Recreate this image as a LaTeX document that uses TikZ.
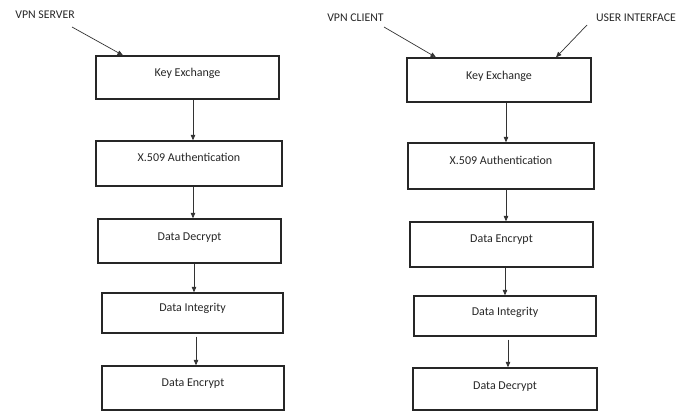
\documentclass[tikz,border=0pt]{standalone}
\usepackage{fontspec}
\setmainfont{Carlito}
\usetikzlibrary{arrows.meta}
\begin{document}
\begin{tikzpicture}[x=1pt,y=-1pt,
  box/.style n args={3}{draw=black!85, line width=1.3pt, rectangle, inner xsep=0pt, inner ysep=0pt,
     minimum width=#1pt, text height=#2pt, text depth=#3pt, font=\fontsize{12}{14}\selectfont, text=black!85},
  lbl/.style={font=\fontsize{11.8}{14}\selectfont, text=black!85, inner sep=0pt},
  arr/.style={draw=black!80, line width=0.7pt, -{Triangle[length=5.5pt,width=4.5pt]}}]
\useasboundingbox (0,0) rectangle (688,412);
% left column
\node[box={183}{20.5}{22.5}] (L1) at (187.5,77.5) {Key Exchange};
\node[box={186}{20.5}{24.5}] (L2) at (189,163.5) {X.509 Authentication};
\node[box={183}{21.5}{22.5}] (L3) at (189.5,241) {Data Decrypt};
\node[box={181}{18.5}{21.5}] (L4) at (192.5,313) {Data Integrity};
\node[box={182}{20.5}{23.5}] (L5) at (193,388) {Data Encrypt};
% right column
\node[box={184}{21.5}{22.5}] (R1) at (499,80) {Key Exchange};
\node[box={186}{21.5}{24.5}] (R2) at (501,166) {X.509 Authentication};
\node[box={183}{20.5}{24.5}] (R3) at (501.5,244.5) {Data Encrypt};
\node[box={182}{19.5}{20.5}] (R4) at (505,316) {Data Integrity};
\node[box={184}{21.5}{20.5}] (R5) at (505,389) {Data Decrypt};
% labels
\node[lbl] (srv) at (45,14.5) {VPN SERVER};
\node[lbl] (cli) at (355.5,18) {VPN CLIENT};
\node[lbl] (ui) at (636,17.5) {USER INTERFACE};
\coordinate (s1) at (72,27);
\coordinate (s2) at (384,27);
\coordinate (s3) at (587,25);
% connectors
\draw[arr] (s1) -- ([xshift=-64.5pt]L1.north);
\draw[arr] (s2) -- ([xshift=-63pt]R1.north);
\draw[arr] (s3) -- ([xshift=57pt]R1.north);
\draw[arr] ([xshift=5.5pt]L1.south) -- ([xshift=5.5pt]L1.south |- L2.north);
\draw[arr] ([xshift=4pt]L2.south) -- ([xshift=4pt]L2.south |- L3.north);
\draw[arr] ([xshift=4.5pt]L3.south) -- ([xshift=4.5pt]L3.south |- L4.north);
\draw[arr, shorten <=3pt] ([xshift=3.5pt]L4.south) -- ([xshift=3.5pt]L4.south |- L5.north);
\draw[arr] ([xshift=7pt]R1.south) -- ([xshift=7pt]R1.south |- R2.north);
\draw[arr] ([xshift=5pt]R2.south) -- ([xshift=5pt]R2.south |- R3.north);
\draw[arr] ([xshift=3.5pt]R3.south) -- ([xshift=3.5pt]R3.south |- R4.north);
\draw[arr, shorten <=3pt] ([xshift=3pt]R4.south) -- ([xshift=3pt]R4.south |- R5.north);
\end{tikzpicture}
\end{document}
